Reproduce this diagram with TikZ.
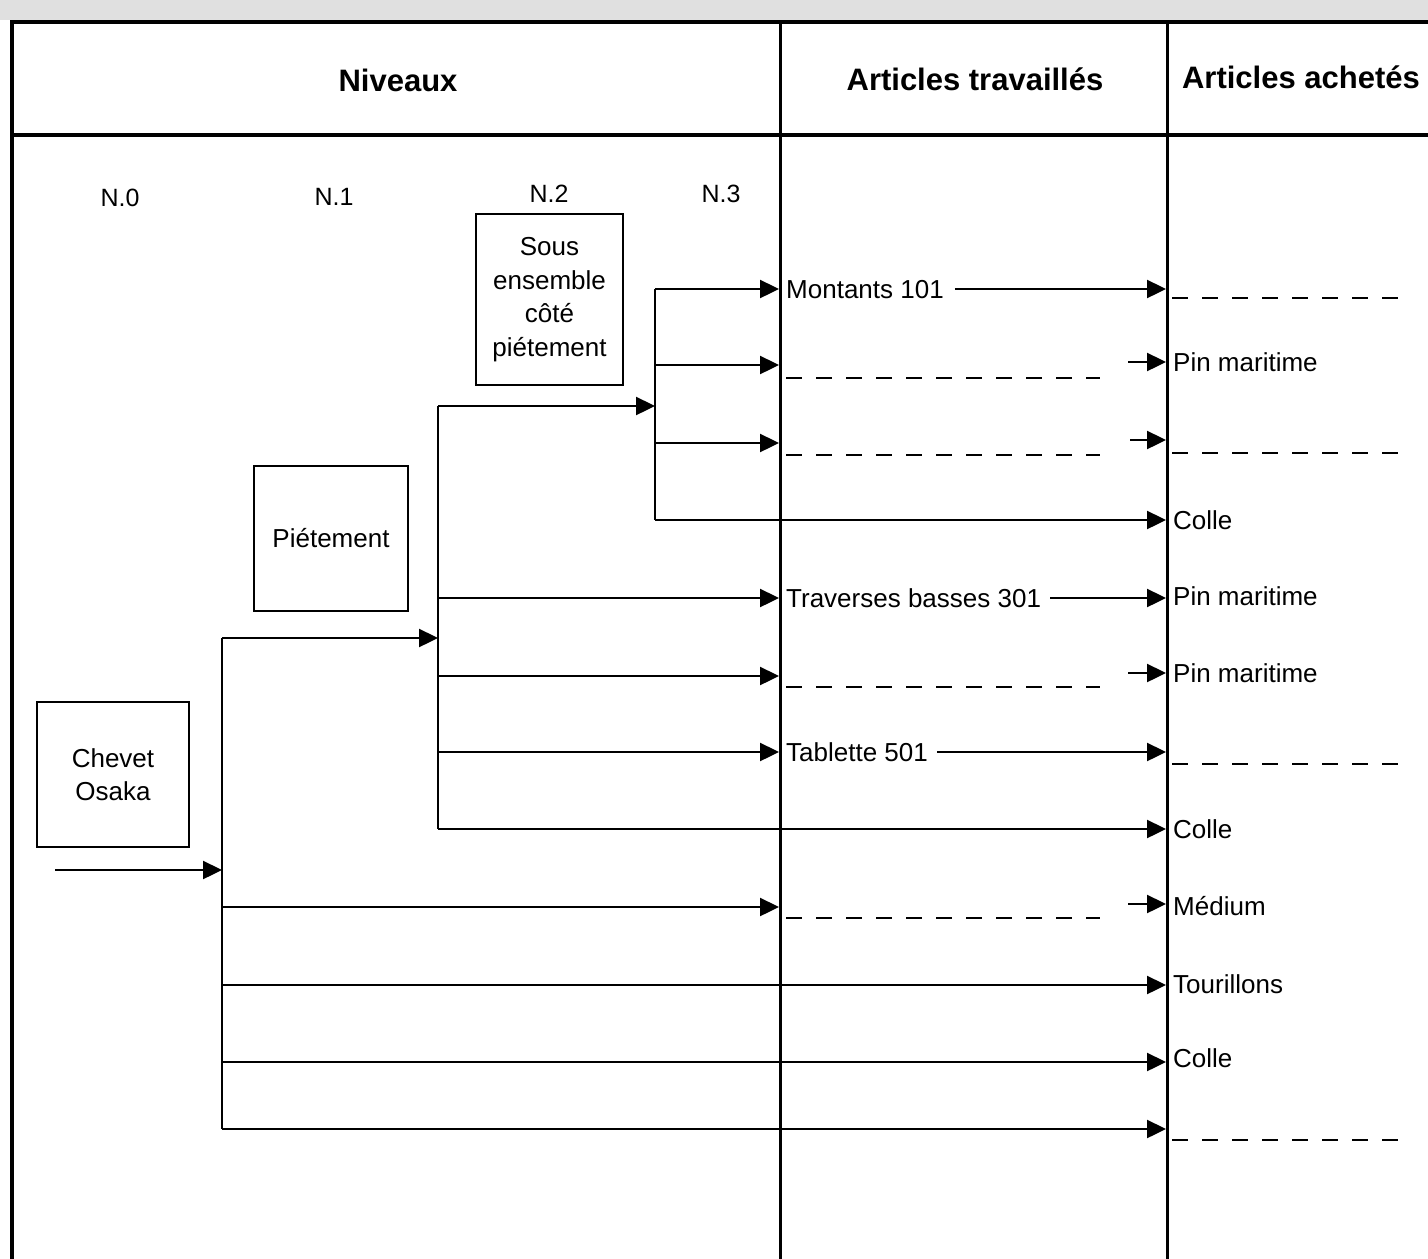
\documentclass[tikz,border=0pt]{standalone}
\usepackage{fontspec}
\setmainfont{Liberation Sans}
\usetikzlibrary{arrows.meta,calc}
\begin{document}
\begin{tikzpicture}[x=1pt,y=-1pt,
 ln/.style={line width=2.4pt},
 arr/.style={line width=2.4pt,-{Triangle[length=19pt,width=18pt]}},
 dsh/.style={line width=2.4pt,dash pattern=on 16pt off 14pt},
 frame/.style={line width=4.5pt},
 coldiv/.style={line width=3pt},
 box/.style={draw,line width=2.4pt,inner sep=0pt,align=center,font=\fontsize{26}{33.5}\selectfont},
 lbl/.style={font=\fontsize{26}{31}\selectfont,inner sep=0pt,anchor=base west},
 hdr/.style={font=\bfseries\fontsize{31}{37}\selectfont,inner sep=0pt},
 lvl/.style={font=\fontsize{25}{30}\selectfont,inner sep=0pt}]
\useasboundingbox (0,0) rectangle (1428,1259);
\fill[black!12] (0,0) rectangle (1428,20);
% frame
\draw[frame] (12,1259) -- (12,22) -- (1428,22);
\draw[frame] (12,135) -- (1428,135);
\draw[coldiv] (780,22) -- (780,1259);
\draw[coldiv] (1167,22) -- (1167,1259);
% headers
\node[hdr] (hniv) at (398,80) {Niveaux};
\node[hdr] (htrav) at (975,79) {Articles travaillés};
\node[hdr] (hach) at (1301,77) {Articles achetés};
% levels
\node[lvl] (n0) at (120,198) {N.0};
\node[lvl] (n1) at (334,197) {N.1};
\node[lvl] (n2) at (549,194) {N.2};
\node[lvl] (n3) at (721,194) {N.3};
% boxes
\node[box,minimum width=147pt,minimum height=171pt] (sous) at (549.5,299.5) {Sous\\ensemble\\côté\\piétement};
\node[box,minimum width=154pt,minimum height=145pt] (piet) at (331,538.5) {Piétement};
\node[box,minimum width=152pt,minimum height=145pt] (chev) at (113,774.5) {Chevet\\Osaka};
% trunk coordinates
\coordinate (in0) at (55,870);
\coordinate (t0) at (222,870);
\coordinate (t0a) at (222,638);
\coordinate (t0b) at (222,907);
\coordinate (t0c) at (222,985);
\coordinate (t0d) at (222,1062);
\coordinate (t0e) at (222,1129);
\coordinate (t1a) at (438,406);
\coordinate (t1in) at (438,638);
\coordinate (t1b) at (438,598);
\coordinate (t1c) at (438,676);
\coordinate (t1d) at (438,752);
\coordinate (t1e) at (438,829);
\coordinate (t2a) at (655,289);
\coordinate (t2in) at (655,406);
\coordinate (t2b) at (655,365);
\coordinate (t2c) at (655,443);
\coordinate (t2d) at (655,520);
% end points on column lines
\foreach \y in {289,365,443,598,676,752,907}{\coordinate (m\y) at (779,\y);}
\foreach \y in {289,362,440,520,598,673,752,829,904,985,1062,1129}{\coordinate (e\y) at (1166,\y);}
% trunks
\draw[arr] (in0) -- (t0);
\draw[ln] (t0a) -- (t0e);
\draw[ln] (t1a) -- (t1e);
\draw[ln] (t2a) -- (t2d);
\draw[arr] (t0a) -- (t1in);
\draw[arr] (t1a) -- (t2in);
% N.3 branches
\draw[arr] (t2a) -- (m289);
\draw[arr] (t2b) -- (m365);
\draw[arr] (t2c) -- (m443);
\draw[arr] (t2d) -- (e520);
% N.2 branches
\draw[arr] (t1b) -- (m598);
\draw[arr] (t1c) -- (m676);
\draw[arr] (t1d) -- (m752);
\draw[arr] (t1e) -- (e829);
% N.1 branches
\draw[arr] (t0b) -- (m907);
\draw[arr] (t0c) -- (e985);
\draw[arr] (t0d) -- (e1062);
\draw[arr] (t0e) -- (e1129);
% column 2 labels
\node[lbl] (mont) at (786,298.5) {Montants 101};
\node[lbl] (trav) at (786,607.5) {Traverses basses 301};
\node[lbl] (tabl) at (786,761.5) {Tablette 501};
\draw[arr] ($(mont.east|-e289)+(11,0)$) -- (e289);
\draw[arr] ($(trav.east|-e598)+(9,0)$) -- (e598);
\draw[arr] ($(tabl.east|-e752)+(9,0)$) -- (e752);
% column 2 dashed placeholders
\draw[dsh] (786,378) -- (1100,378);
\draw[dsh] (786,455) -- (1100,455);
\draw[dsh] (786,687) -- (1100,687);
\draw[dsh] (786,918) -- (1100,918);
% short arrows
\draw[arr] (1128,362) -- (e362);
\draw[arr] (1130,440) -- (e440);
\draw[arr] (1128,673) -- (e673);
\draw[arr] (1128,904) -- (e904);
% column 3 labels
\node[lbl] (pin1) at (1173,371.5) {Pin maritime};
\node[lbl] (col1) at (1173,529) {Colle};
\node[lbl] (pin2) at (1173,605) {Pin maritime};
\node[lbl] (pin3) at (1173,682) {Pin maritime};
\node[lbl] (col2) at (1173,838) {Colle};
\node[lbl] (med) at (1173,915) {Médium};
\node[lbl] (tour) at (1173,993) {Tourillons};
\node[lbl] (col3) at (1173,1067) {Colle};
% column 3 dashed placeholders
\draw[dsh] (1172,298) -- (1400,298);
\draw[dsh] (1172,453) -- (1400,453);
\draw[dsh] (1172,764) -- (1400,764);
\draw[dsh] (1172,1140) -- (1400,1140);
\end{tikzpicture}
\end{document}
